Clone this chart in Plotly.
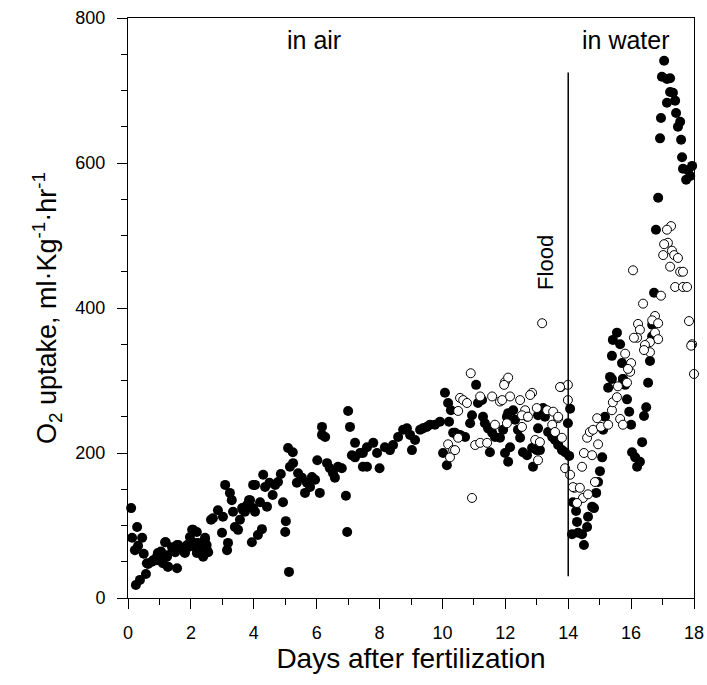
import plotly.graph_objects as go

# Filled circles (days, O2 uptake)
day_filled = [0.1, 0.13, 0.29, 0.45, 0.32, 0.22, 0.5, 0.25, 0.38, 0.57, 0.64, 0.76, 0.92, 0.95, 1.05,
              1.1, 1.2, 1.27, 1.24, 1.4, 1.56, 1.5, 1.6, 1.72, 1.88, 1.8, 1.97, 2.07, 2.13, 2.23, 2.19,
              2.39, 2.45, 2.5, 2.55, 2.64, 2.7, 2.86, 2.99, 3.02, 3.09, 3.15, 3.18, 3.24, 3.3, 3.34, 3.4,
              3.5, 3.56, 3.63, 3.72, 3.85, 3.98, 3.98, 3.94,
              0.6, 0.8, 0.92, 1.02, 1.11, 1.27, 1.24, 1.43, 1.56, 1.72, 1.81, 1.91, 2.04, 2.19, 2.13,
              2.29, 2.45, 2.51, 2.39, 1.18,
              4.13, 4.26, 3.66, 3.78, 3.88, 4.04, 4.04, 4.2, 4.3, 4.36, 4.42, 4.5, 4.6, 4.68, 4.77,
              4.86, 4.93, 5.02, 5.0, 5.09, 5.24, 5.25, 5.15, 5.12, 5.41, 5.37, 5.53, 5.63, 5.69, 5.79,
              5.85, 5.95, 6.02, 6.1, 6.17, 6.17, 6.27, 6.33, 6.42, 6.52, 6.58, 6.68, 6.8, 6.93, 6.97,
              7.0, 7.06, 7.22, 7.12, 7.22, 7.38, 7.47, 7.6,
              7.47, 7.6, 7.8, 7.92, 8.0, 8.17, 8.33, 8.43, 8.59, 8.75, 8.87, 8.97, 9.03, 9.13, 9.29,
              9.38, 9.5, 9.6, 9.76, 9.92, 10.08, 10.18, 10.27, 10.21, 10.02, 10.14, 10.34, 10.46,
              10.4, 10.56, 10.72, 10.88, 10.94, 11.07, 11.13, 11.26, 11.29, 11.35, 11.45, 11.58, 11.51,
              11.67, 11.83, 11.93, 12.05, 12.09, 12.25, 12.31, 12.4, 12.47, 11.99, 12.09, 12.15, 12.56,
              12.69, 12.85, 13.0, 13.1, 12.88, 13.04, 13.04, 13.2, 13.26, 13.36, 13.49, 13.58, 13.68,
              13.8, 13.9, 14.03, 13.99, 14.06,
              14.15, 14.25, 14.28, 14.12, 14.31, 14.44, 14.5, 14.6, 14.63, 14.76, 14.82, 14.89, 14.95,
              15.01, 15.08, 15.11, 15.17, 15.27, 15.39, 15.74, 15.81, 15.87, 15.94, 16.0, 16.03, 16.13,
              16.19, 16.28, 16.35, 16.41, 16.48, 16.54,
              17.05, 16.98, 17.14, 17.24, 17.24, 17.33, 17.4, 17.14, 17.43, 17.56, 17.49, 16.95, 16.92,
              17.59, 18.03, 17.62, 17.65, 17.81, 17.94, 17.75, 17.88, 16.86, 16.79,
              16.73, 16.67, 16.67, 15.55, 15.42, 15.65, 15.39, 15.71, 16.6, 15.33, 15.74]
o2_filled = [124, 83, 98, 83, 72, 66, 61, 18, 25, 33, 47, 50, 52, 62, 64,
             52, 77, 43, 59, 70, 41, 63, 73, 69, 73, 63, 84, 94, 70, 76, 62,
             59, 83, 73, 63, 108, 110, 121, 90, 112, 156, 66, 76, 145, 135, 119, 98,
             94, 108, 124, 119, 135, 156, 124, 77,
             48, 52, 57, 63, 48, 43, 57, 66, 73, 69, 62, 70, 94, 91, 76,
             69, 81, 66, 57, 77,
             87, 95, 121, 128, 135, 119, 156, 132, 170, 153, 126, 159, 142, 156, 160,
             171, 132, 106, 91, 207, 201, 186, 181, 36, 172, 159, 166, 145, 159, 153,
             167, 163, 190, 145, 236, 225, 222, 186, 179, 172, 166, 181, 179, 141, 91,
             258, 236, 214, 197, 194, 200, 181, 208,
             200, 181, 214, 200, 179, 208, 204, 211, 222, 232, 234, 225, 204, 218, 232,
             234, 236, 239, 239, 243, 283, 269, 259, 243, 200, 183, 228, 225,
             228, 225, 222, 241, 252, 294, 269, 273, 250, 241, 234, 228, 201,
             222, 221, 232, 250, 255, 259, 246, 232, 221, 200, 188, 208, 201,
             197, 207, 204, 204, 181, 234, 252, 262, 250, 229, 222, 218, 211,
             204, 201, 196, 241, 261,
             132, 120, 105, 88, 90, 88, 73, 98, 112, 126, 124, 145, 160,
             175, 194, 232, 250, 290, 302, 302, 294, 274, 257, 239, 201, 194,
             181, 188, 215, 251, 263, 297,
             741, 719, 716, 717, 698, 697, 686, 683, 669, 657, 650, 662, 634,
             632, 625, 608, 592, 590, 596, 577, 582, 552, 508,
             421, 377, 361, 366, 356, 350, 334, 324, 327, 305, 302]

# Open circles (days, O2 uptake)
day_open = [10.9, 10.56, 10.66, 10.78, 10.5, 10.18, 10.34, 10.24,
            13.17, 11.2, 11.58, 11.83, 11.9, 11.99, 12.09, 11.96, 12.15, 12.47, 12.85, 12.79,
            12.63, 12.69, 13.0, 13.33, 13.52, 13.68, 13.77, 13.99, 13.99, 10.94, 10.5, 10.4, 11.04,
            11.2, 11.42, 11.67, 12.05, 12.53, 12.72, 12.53, 13.49, 13.58, 12.95, 13.1, 13.04, 13.9,
            14.06, 14.2, 13.8,
            13.74, 14.15, 14.37, 14.47, 14.63, 14.28, 14.44, 14.5, 14.76, 14.6, 14.69, 14.79, 14.95,
            14.92, 15.04, 14.85, 15.27, 15.39, 15.42, 15.55, 15.58, 15.65, 15.74, 15.87, 15.97, 18.0,
            13.68,
            17.27, 17.14, 17.17, 17.05, 17.02, 17.3, 17.37, 17.49, 17.24, 17.56, 17.65, 17.4, 17.65,
            17.78, 16.06, 17.84, 17.94, 17.91, 16.95, 16.38, 16.76, 16.67, 16.86, 16.22, 16.28, 16.19,
            16.76, 16.86, 16.6, 16.44, 16.09, 16.6, 16.41, 15.81, 16.0, 15.9]
o2_open = [310, 276, 273, 269, 258, 212, 204, 194,
           379, 278, 278, 271, 273, 298, 304, 294, 278, 273, 283, 280,
           259, 250, 262, 259, 257, 248, 291, 294, 273, 138, 221, 204, 211,
           214, 214, 239, 241, 252, 250, 236, 239, 229, 218, 215, 190, 179,
           170, 152, 221,
           291, 153, 152, 138, 143, 131, 181, 200, 197, 221, 229, 232, 212,
           248, 236, 160, 239, 259, 270, 277, 292, 247, 239, 297, 312, 309,
           250,
           513, 508, 490, 488, 473, 479, 473, 469, 457, 450, 450, 429, 429,
           429, 452, 382, 350, 348, 417, 406, 389, 383, 379, 378, 370, 359,
           366, 357, 353, 349, 359, 339, 342, 337, 324, 316]

FONT = "Liberation Sans, Arial, sans-serif"

fig = go.Figure()
fig.add_trace(go.Scatter(
    x=day_filled, y=o2_filled, mode="markers", cliponaxis=False,
    marker=dict(size=10, color="black", line=dict(width=0)), showlegend=False))
fig.add_trace(go.Scatter(
    x=day_open, y=o2_open, mode="markers", cliponaxis=False,
    marker=dict(size=9, color="white", line=dict(width=1, color="black")), showlegend=False))

# flood line
fig.add_shape(type="line", x0=14, x1=14, y0=30, y1=725, line=dict(color="black", width=1.5))

fig.add_annotation(x=5.9, y=770, text="in air", showarrow=False, font=dict(size=25))
fig.add_annotation(x=15.85, y=770, text="in water", showarrow=False, font=dict(size=25))
fig.add_annotation(x=13.28, y=463, text="Flood", showarrow=False, textangle=-90, font=dict(size=22))

fig.update_layout(
    width=707, height=685,
    margin=dict(l=128, r=13, t=18, b=87),
    paper_bgcolor="white", plot_bgcolor="white",
    font=dict(family=FONT, color="black"),
    xaxis=dict(range=[0, 18], dtick=2, tick0=0, showgrid=False, zeroline=False, automargin=False,
               showline=True, linecolor="black", linewidth=1, mirror=True,
               ticks="outside", ticklen=10, tickcolor="black", ticklabelstandoff=8,
               minor=dict(dtick=1, ticks="outside", ticklen=6, tickcolor="black"),
               tickfont=dict(size=18),
               title=dict(text="Days after fertilization", font=dict(size=28), standoff=3)),
    yaxis=dict(range=[0, 800], dtick=200, tick0=0, showgrid=False, zeroline=False, automargin=False,
               showline=True, linecolor="black", linewidth=1, mirror=True,
               ticks="outside", ticklen=10, tickcolor="black", ticklabelstandoff=8,
               minor=dict(dtick=50, ticks="outside", ticklen=6, tickcolor="black"),
               tickfont=dict(size=18),
               title=dict(text="O<sub>2</sub> uptake, ml·Kg<sup>-1</sup>·hr<sup>-1</sup>",
                          font=dict(size=27), standoff=10)),
)

fig.write_html("out.html", config={"displayModeBar": False},
               post_script="document.body.style.margin='0';")
